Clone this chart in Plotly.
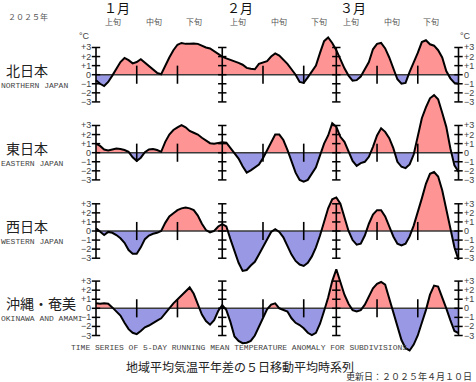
import plotly.graph_objects as go

# ---------------- data ----------------
days = list(range(90))  # day index from 1 Jan (0) to 31 Mar (89)

north = [-0.6, -1.0, -1.25, -0.8, -0.1, 0.7, 1.4, 1.85, 1.6, 1.25,
         1.4, 1.7, 1.3, 0.9, 0.5, 0.2, 0.05, 1.0, 1.9, 2.7,
         3.3, 3.5, 3.4, 3.4, 3.45, 3.4, 3.2, 3.0, 2.9, 2.6,
         2.3, 2.0, 1.8, 1.65, 1.5, 1.3, 1.1, 0.75, 0.65, 0.6,
         1.2, 1.35, 1.5, 2.0, 2.35, 2.1, 1.7, 1.2, 0.6, 0.0,
         -0.8, -0.9, -0.3, 0.4, 1.0, 2.4, 3.7, 4.1, 3.5, 2.7,
         1.7, 0.7, -0.1, -0.65, -0.6, -0.2, 0.6, 1.4, 2.8, 3.4,
         3.5, 2.9, 1.9, 0.7, -0.5, -1.0, -0.9, 0.3, 1.3, 2.4,
         3.6, 3.8, 3.35, 3.2, 2.7, 1.9, 0.4, -0.4, -0.9, -1.0]

east = [1.0, 0.75, 0.35, 0.25, 0.35, 0.45, 0.4, 0.3, 0.1, -0.5,
        -0.9, -0.55, 0.05, 0.35, 0.4, 0.3, 0.1, 1.2, 2.0, 2.5,
        2.8, 3.05, 2.8, 2.4, 2.2, 2.0, 1.65, 1.3, 1.05, 1.0,
        1.05, 1.15, 1.1, 0.55, 0.0, -0.65, -1.5, -2.2, -1.95, -1.6,
        -1.3, -0.6, 0.3, 1.2, 2.0, 2.0, 1.4, 0.3, -0.9, -2.2,
        -3.0, -3.2, -3.0, -2.3, -1.6, -0.3, 1.0, 1.9, 3.25, 2.85,
        1.75, 1.2, 0.2, -0.9, -1.45, -1.15, -1.0, -0.45, 0.65, 1.9,
        2.7, 2.3, 1.6, 0.5, -1.0, -1.55, -1.7, -1.3, -0.2, 1.7,
        3.8, 5.0, 6.0, 6.35, 5.9, 4.4, 2.85, 0.5, -1.4, -2.1]

west = [0.3, -0.1, -0.45, -0.1, -0.2, -0.45, -0.8, -1.3, -2.1, -2.5,
        -2.5, -1.8, -0.9, -0.5, -0.3, -0.2, 0.0, 0.9, 1.6, 1.95,
        2.3, 2.5, 2.6, 2.5, 2.3, 1.7, 0.8, 0.1, -0.15, 0.0,
        0.5, 0.75, 0.5, -0.9, -2.3, -3.5, -4.4, -4.3, -3.8, -3.4,
        -2.6, -1.8, -1.0, -0.1, 0.2, -0.1, -0.7, -1.7, -2.6, -3.3,
        -3.7, -3.85, -3.5, -2.8, -1.8, -0.5, 1.0, 2.5, 3.5, 3.7,
        3.0, 1.5, 0.0, -1.0, -1.5, -1.4, -0.5, 0.8, 1.8, 2.3,
        2.3, 1.6, 0.5, -0.6, -1.4, -1.6, -1.4, -0.6, 0.6, 2.0,
        3.6, 5.2, 6.3, 6.5, 6.0, 4.5, 2.5, 0.5, -1.8, -3.2]

okinawa = [0.55, 0.5, 0.55, 0.5, 0.1, -0.4, -0.8, -1.6, -2.3, -2.7,
           -2.85, -2.5, -2.1, -1.9, -1.6, -1.35, -1.1, -0.6, 0.0, 0.55,
           1.0, 1.5, 1.95, 2.3, 1.6, 0.4, -0.7, -1.4, -1.8, -1.3,
           -0.3, 0.35, -0.2, -1.5, -3.1, -3.6, -3.85, -3.8, -3.6, -3.0,
           -2.0, -1.1, -0.1, 0.4, 0.55, 0.0, -0.2, -0.35, -1.1, -1.6,
           -1.85, -2.2, -2.7, -2.95, -2.7, -1.7, -0.3, 1.2, 3.0, 4.3,
           2.9, 1.5, 0.5, -0.2, -0.35, -0.2, 0.4, 1.4, 2.2, 2.7,
           2.9, 2.6, 1.1, -0.4, -2.0, -3.5, -4.4, -4.65, -4.0, -3.0,
           -1.6, -0.2, 1.5, 2.5, 2.4, 1.3, 0.0, -1.3, -2.5, -2.75]

series = [north, east, west, okinawa]
region_names_ja = ["北日本", "東日本", "西日本", "沖縄・奄美"]
region_names_en = ["NORTHERN JAPAN", "EASTERN JAPAN", "WESTERN JAPAN", "OKINAWA AND AMAMI"]

month_labels = ["１月", "２月", "３月"]
month_start_days = [0, 31, 59]
dekad_labels = ["上旬", "中旬", "下旬"]
dekad_start_days = [0, 10, 20, 31, 41, 51, 59, 69, 79]
last_day = 89

tick_values = [3, 2, 1, 0, -1, -2, -3]
tick_labels = ["+3", "+2", "+1", "0", "−1", "−2", "−3"]

year_label = "２０２５年"
unit_label = "°C"
title_en = "TIME SERIES OF 5-DAY RUNNING MEAN TEMPERATURE ANOMALY FOR SUBDIVISIONS"
title_ja = "地域平均気温平年差の５日移動平均時系列"
updated_label = "更新日：２０２５年４月１０日"

# ---------------- layout geometry ----------------
W, H = 476, 382
X_LEFT_PX = 96.0
PX_PER_DAY = 4.073
PX_PER_UNIT = 9.07
ZERO_PX = [74.7, 152.7, 231.0, 308.3]

RED = "#ff9494"
BLUE = "#9898e4"
CJK = "Noto Sans CJK JP"
MONO = "Liberation Mono, DejaVu Sans Mono, monospace"
SANS = "Liberation Sans, Arial, sans-serif"

x_range = [-X_LEFT_PX / PX_PER_DAY, (W - X_LEFT_PX) / PX_PER_DAY]


def px_x(p):
    return p / W


def px_y(p):
    return 1 - p / H


def split_sign(xs, ys):
    ox, oy = [], []
    for i in range(len(ys)):
        if i > 0 and ys[i - 1] * ys[i] < 0:
            t = ys[i - 1] / (ys[i - 1] - ys[i])
            ox.append(xs[i - 1] + t * (xs[i] - xs[i - 1]))
            oy.append(0.0)
        ox.append(xs[i])
        oy.append(ys[i])
    pos = [max(v, 0.0) for v in oy]
    neg = [min(v, 0.0) for v in oy]
    return ox, pos, neg


fig = go.Figure()
annotations = []

for k, vals in enumerate(series):
    yref = "y" if k == 0 else f"y{k + 1}"
    sx, pos, neg = split_sign(days, vals)
    fig.add_trace(go.Scatter(x=sx, y=pos, yaxis=yref, mode="lines", fill="tozeroy",
                             fillcolor=RED, line=dict(width=0), hoverinfo="skip"))
    fig.add_trace(go.Scatter(x=sx, y=neg, yaxis=yref, mode="lines", fill="tozeroy",
                             fillcolor=BLUE, line=dict(width=0), hoverinfo="skip"))
    # zero line
    fig.add_trace(go.Scatter(x=[0, last_day], y=[0, 0], yaxis=yref, mode="lines",
                             line=dict(color="#3a3a3a", width=1.5), hoverinfo="skip"))
    # dekad marks
    for d in dekad_start_days:
        if d in month_start_days:
            continue
        fig.add_trace(go.Scatter(x=[d, d], y=[-1, 1], yaxis=yref, mode="lines",
                                 line=dict(color="black", width=1.6), hoverinfo="skip"))
    # the series
    fig.add_trace(go.Scatter(x=days, y=vals, yaxis=yref, mode="lines",
                             line=dict(color="black", width=2), hoverinfo="skip"))
    # axes at month boundaries and ends
    for d in month_start_days + [last_day]:
        fig.add_trace(go.Scatter(x=[d, d], y=[-3, 3], yaxis=yref, mode="lines",
                                 line=dict(color="black", width=1.6), hoverinfo="skip"))
        fig.add_trace(go.Scatter(x=[d] * len(tick_values), y=tick_values, yaxis=yref,
                                 mode="markers",
                                 marker=dict(symbol="line-ew", size=6,
                                             line=dict(color="black", width=1.5)),
                                 hoverinfo="skip"))
    # tick labels on both sides
    for v, t in zip(tick_values, tick_labels):
        annotations.append(dict(x=0, y=v, xref="x", yref=yref, text=t, showarrow=False,
                                xanchor="right", yanchor="middle", xshift=-3,
                                font=dict(family=SANS, size=9, color="#444444")))
        annotations.append(dict(x=last_day, y=v, xref="x", yref=yref, text=t, showarrow=False,
                                xanchor="left", yanchor="middle", xshift=3,
                                font=dict(family=SANS, size=9, color="#444444")))
    # region titles
    z = ZERO_PX[k]
    annotations.append(dict(x=px_x(4), y=px_y(z - 5), xref="paper", yref="paper",
                            text=region_names_ja[k], showarrow=False, xanchor="left",
                            yanchor="middle", font=dict(family=CJK, size=14, color="#222222")))
    annotations.append(dict(x=px_x(-1), y=px_y(z + 10.5), xref="paper", yref="paper",
                            text=region_names_en[k], showarrow=False, xanchor="left",
                            yanchor="middle", font=dict(family=MONO, size=8, color="#444444")))

# unit labels
annotations.append(dict(x=0, y=4.25, xref="x", yref="y", text=unit_label, showarrow=False,
                        xanchor="right", yanchor="middle", xshift=-4,
                        font=dict(family=SANS, size=9, color="#444444")))
annotations.append(dict(x=last_day, y=4.25, xref="x", yref="y", text=unit_label, showarrow=False,
                        xanchor="left", yanchor="middle", xshift=-1,
                        font=dict(family=SANS, size=9, color="#444444")))

# month labels
month_px = [101.5, 224.5, 337.5]
for lab, p in zip(month_labels, month_px):
    annotations.append(dict(x=px_x(p), y=px_y(7.5), xref="paper", yref="paper", text=lab,
                            showarrow=False, xanchor="left", yanchor="middle",
                            font=dict(family=CJK, size=13, color="#111111")))
# dekad labels
dekad_px = [113, 154, 194, 238, 279, 319, 351, 392, 431]
for i, p in enumerate(dekad_px):
    annotations.append(dict(x=px_x(p), y=px_y(21), xref="paper", yref="paper",
                            text=dekad_labels[i % 3], showarrow=False, xanchor="center",
                            yanchor="middle", font=dict(family=CJK, size=8, color="#555555")))

annotations.append(dict(x=px_x(6), y=px_y(16.5), xref="paper", yref="paper", text=year_label,
                        showarrow=False, xanchor="left", yanchor="middle",
                        font=dict(family=CJK, size=8, color="#555555")))
annotations.append(dict(x=px_x(239), y=px_y(347.5), xref="paper", yref="paper", text=title_en,
                        showarrow=False, xanchor="center", yanchor="middle",
                        font=dict(family=MONO, size=8, color="#444444")))
annotations.append(dict(x=px_x(240), y=px_y(366.5), xref="paper", yref="paper", text=title_ja,
                        showarrow=False, xanchor="center", yanchor="middle",
                        font=dict(family=CJK, size=12, color="#222222")))
annotations.append(dict(x=px_x(474), y=px_y(376), xref="paper", yref="paper", text=updated_label,
                        showarrow=False, xanchor="right", yanchor="middle",
                        font=dict(family=CJK, size=9, color="#333333")))

layout_axes = {}
for k, z in enumerate(ZERO_PX):
    rng = [-(H - z) / PX_PER_UNIT, z / PX_PER_UNIT]
    ax = dict(range=rng, domain=[0, 1], visible=False, fixedrange=True, anchor="x")
    if k > 0:
        ax["overlaying"] = "y"
    layout_axes["yaxis" if k == 0 else f"yaxis{k + 1}"] = ax

fig.update_layout(
    width=W, height=H,
    margin=dict(l=0, r=0, t=0, b=0, pad=0),
    paper_bgcolor="white", plot_bgcolor="white",
    showlegend=False,
    xaxis=dict(range=x_range, domain=[0, 1], visible=False, fixedrange=True),
    annotations=annotations,
    **layout_axes,
)

fig.write_html(
    "out.html",
    config={"displayModeBar": False},
    post_script="document.body.style.margin='0';document.body.style.overflow='hidden';",
)
